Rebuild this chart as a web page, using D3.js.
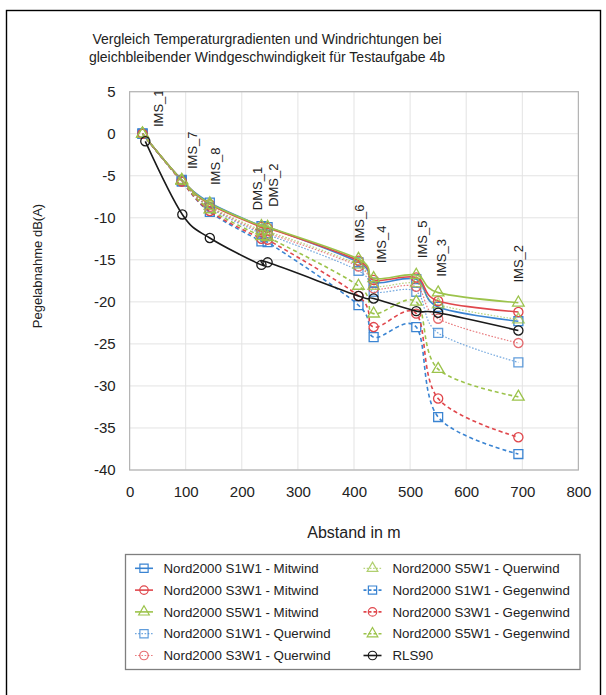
<!DOCTYPE html>
<html>
<head>
<meta charset="utf-8">
<script src="https://cdn.jsdelivr.net/npm/d3@7"></script>
<style>
  html, body { margin: 0; padding: 0; background: #fff; }
  svg { display: block; font-family: "Liberation Sans", Arial, sans-serif; }
</style>
</head>
<body>
<svg id="chart" width="606" height="695"></svg>
<script>
// Measurement positions (distance in m)
const stationX = [23, 93, 143, 235, 246, 408, 435, 511, 550, 693];
const rlsX     = [28, 94, 143, 235, 246, 408, 435, 511, 550, 693];

// Level decrease in dB(A) per series
const s1Mitwind    = [0, -5.5, -8.2, -11.0, -11.1, -15.3, -17.7, -17.3, -20.6, -22.3];
const s3Mitwind    = [0, -5.5, -8.4, -11.1, -11.2, -15.1, -17.4, -17.1, -19.9, -21.2];
const s5Mitwind    = [0, -5.5, -8.3, -11.0, -11.1, -14.9, -17.2, -16.8, -18.9, -20.1];
const s1Querwind   = [0, -5.6, -8.8, -11.9, -12.0, -16.3, -18.8, -18.8, -23.7, -27.2];
const s3Querwind   = [0, -5.6, -8.7, -11.7, -11.8, -15.8, -18.4, -18.2, -22.0, -24.9];
const s5Querwind   = [0, -5.6, -8.6, -11.5, -11.6, -15.6, -18.1, -17.8, -20.3, -22.1];
const s1Gegenwind  = [0, -5.7, -9.3, -12.8, -12.9, -20.4, -24.2, -23.0, -33.7, -38.1];
const s3Gegenwind  = [0, -5.7, -9.2, -12.5, -12.6, -19.3, -23.0, -21.4, -31.5, -36.1];
const s5Gegenwind  = [0, -5.6, -9.0, -12.2, -12.3, -18.1, -21.4, -20.0, -28.0, -31.3];
const rls90        = [-0.9, -9.6, -12.4, -15.6, -15.3, -19.3, -19.6, -21.1, -21.3, -23.4];

// Station labels and their anchor points (m, dB)
const stationNames  = ["IMS_1", "IMS_7", "IMS_8", "DMS_1", "DMS_2", "IMS_6", "IMS_4", "IMS_5", "IMS_3", "IMS_2"];
const stationLabelX = [51, 112, 152, 227, 257, 409, 449, 522, 556, 693];
const stationLabelY = [0.8, -4.2, -6.1, -9.1, -8.7, -12.9, -15.4, -14.8, -17.0, -17.7];

// Axis ticks
const xTicks = [0, 100, 200, 300, 400, 500, 600, 700, 800];
const yTicks = [5, 0, -5, -10, -15, -20, -25, -30, -35, -40];

const titleLines = ["Vergleich Temperaturgradienten und Windrichtungen bei",
                    "gleichbleibender Windgeschwindigkeit für Testaufgabe 4b"];

// Styling
const BLUE = "#3a84d2", RED = "#e0474c", GREEN = "#9cc34b", BLACK = "#1a1a1a";
const styles = {
  solid:  { dash: null,    width: 1.6, opacity: 1 },
  dotted: { dash: "1.6,1.6", width: 1.2, opacity: 0.7 },
  dashed: { dash: "4,3",   width: 1.6, opacity: 1 }
};

const series = [
  { name: "Nord2000 S1W1 - Mitwind",   x: stationX, y: s1Mitwind,   color: BLUE,  line: "solid",  sym: d3.symbolSquare },
  { name: "Nord2000 S3W1 - Mitwind",   x: stationX, y: s3Mitwind,   color: RED,   line: "solid",  sym: d3.symbolCircle },
  { name: "Nord2000 S5W1 - Mitwind",   x: stationX, y: s5Mitwind,   color: GREEN, line: "solid",  sym: d3.symbolTriangle },
  { name: "Nord2000 S1W1 - Querwind",  x: stationX, y: s1Querwind,  color: BLUE,  line: "dotted", sym: d3.symbolSquare },
  { name: "Nord2000 S3W1 - Querwind",  x: stationX, y: s3Querwind,  color: RED,   line: "dotted", sym: d3.symbolCircle },
  { name: "Nord2000 S5W1 - Querwind",  x: stationX, y: s5Querwind,  color: GREEN, line: "dotted", sym: d3.symbolTriangle },
  { name: "Nord2000 S1W1 - Gegenwind", x: stationX, y: s1Gegenwind, color: BLUE,  line: "dashed", sym: d3.symbolSquare },
  { name: "Nord2000 S3W1 - Gegenwind", x: stationX, y: s3Gegenwind, color: RED,   line: "dashed", sym: d3.symbolCircle },
  { name: "Nord2000 S5W1 - Gegenwind", x: stationX, y: s5Gegenwind, color: GREEN, line: "dashed", sym: d3.symbolTriangle },
  { name: "RLS90",                     x: rlsX,     y: rls90,       color: BLACK, line: "solid",  sym: d3.symbolCircle }
];

const symSize = new Map([[d3.symbolSquare, 80], [d3.symbolCircle, 66], [d3.symbolTriangle, 58]]);

const svg = d3.select("#chart");
const plot = { left: 129.6, right: 578.4, top: 91.7, bottom: 470 };

const x = d3.scaleLinear().domain([0, 800]).range([plot.left, plot.right]);
const y = d3.scaleLinear().domain([-40, 5]).range([plot.bottom, plot.top]);

// Outer chart frame
svg.append("rect")
  .attr("x", 6.5).attr("y", 10.5).attr("width", 594).attr("height", 700)
  .attr("fill", "#fff").attr("stroke", "#000").attr("stroke-width", 1.4);

// Title
svg.append("text")
  .attr("x", 267).attr("y", 43.5)
  .attr("text-anchor", "middle")
  .attr("font-size", 14).attr("fill", "#222")
  .selectAll("tspan").data(titleLines).join("tspan")
  .attr("x", 267).attr("dy", (d, i) => i === 0 ? 0 : 18.4)
  .text(d => d);

// Gridlines
const grid = svg.append("g");
grid.selectAll("line.gx").data(xTicks).join("line")
  .attr("x1", d => x(d)).attr("x2", d => x(d))
  .attr("y1", plot.top).attr("y2", plot.bottom)
  .attr("stroke", "#e3e3e3").attr("stroke-width", 1);
grid.selectAll("line.gy").data(yTicks).join("line")
  .attr("x1", plot.left).attr("x2", plot.right)
  .attr("y1", d => y(d)).attr("y2", d => y(d))
  .attr("stroke", "#e3e3e3").attr("stroke-width", 1);

// Plot area border
svg.append("rect")
  .attr("x", plot.left).attr("y", plot.top)
  .attr("width", plot.right - plot.left).attr("height", plot.bottom - plot.top)
  .attr("fill", "none").attr("stroke", "#b4b4b4").attr("stroke-width", 1.2);

// Axes (labels only, no tick marks)
const xAxis = svg.append("g")
  .attr("transform", `translate(0,${plot.bottom})`)
  .call(d3.axisBottom(x).tickValues(xTicks).tickFormat(d => String(d)).tickSize(0).tickPadding(16));
xAxis.select(".domain").remove();
xAxis.selectAll("text").attr("font-size", 15).attr("fill", "#222")
  .attr("font-family", "Liberation Sans, Arial, sans-serif");

const yAxis = svg.append("g")
  .attr("transform", `translate(${plot.left},0)`)
  .call(d3.axisLeft(y).tickValues(yTicks).tickFormat(d => String(d)).tickSize(0).tickPadding(14));
yAxis.select(".domain").remove();
yAxis.selectAll("text").attr("font-size", 15).attr("fill", "#222")
  .attr("font-family", "Liberation Sans, Arial, sans-serif");

// Axis titles
svg.append("text")
  .attr("x", (plot.left + plot.right) / 2).attr("y", 538)
  .attr("text-anchor", "middle").attr("font-size", 16).attr("fill", "#222")
  .text("Abstand in m");

svg.append("text")
  .attr("transform", "translate(42,266) rotate(-90)")
  .attr("text-anchor", "middle").attr("font-size", 13).attr("fill", "#222")
  .text("Pegelabnahme dB(A)");

// Clip for the plot area
svg.append("clipPath").attr("id", "plotClip")
  .append("rect")
  .attr("x", plot.left).attr("y", plot.top)
  .attr("width", plot.right - plot.left).attr("height", plot.bottom - plot.top);

// Series lines and markers
const line = d3.line()
  .x(d => x(d[0])).y(d => y(d[1]))
  .curve(d3.curveCatmullRom.alpha(0));

const gSeries = svg.append("g").attr("clip-path", "url(#plotClip)");
series.forEach(s => {
  const pts = s.x.map((v, i) => [v, s.y[i]]);
  const st = styles[s.line];
  const g = gSeries.append("g");
  g.append("path")
    .attr("d", line(pts))
    .attr("fill", "none")
    .attr("stroke", s.color)
    .attr("stroke-width", st.width)
    .attr("stroke-opacity", st.opacity)
    .attr("stroke-dasharray", st.dash);
  g.selectAll("path.m").data(pts).join("path")
    .attr("transform", d => `translate(${x(d[0])},${y(d[1])})`)
    .attr("d", d3.symbol(s.sym, symSize.get(s.sym)))
    .attr("fill", "none")
    .attr("stroke", s.color)
    .attr("stroke-width", 1.3)
    .attr("stroke-opacity", s.line === "dotted" ? 0.8 : 1);
});

// Station labels (rotated)
const gLabels = svg.append("g").attr("clip-path", "url(#plotClip)");
gLabels.selectAll("text").data(stationNames).join("text")
  .attr("transform", (d, i) => `translate(${x(stationLabelX[i])},${y(stationLabelY[i])}) rotate(-90)`)
  .attr("dy", "0.36em")
  .attr("font-size", 13).attr("fill", "#222")
  .text(d => d);

// Legend
const legend = { left: 125.5, top: 554.5, right: 580, bottom: 669.5 };
svg.append("rect")
  .attr("x", legend.left).attr("y", legend.top)
  .attr("width", legend.right - legend.left).attr("height", legend.bottom - legend.top)
  .attr("fill", "#fff").attr("stroke", "#7f7f7f").attr("stroke-width", 1.3);

const colSymX = [144, 372.5];
const colTextX = [163.5, 392.5];
const rowY0 = 568.3, rowStep = 21.8;

series.forEach((s, i) => {
  const col = Math.floor(i / 5), row = i % 5;
  const cy = rowY0 + row * rowStep;
  const st = styles[s.line];
  const g = svg.append("g");
  g.append("line")
    .attr("x1", colSymX[col] - 9).attr("x2", colSymX[col] + 9)
    .attr("y1", cy).attr("y2", cy)
    .attr("stroke", s.color).attr("stroke-width", st.width)
    .attr("stroke-opacity", st.opacity)
    .attr("stroke-dasharray", s.line === "dashed" ? "3,2" : st.dash);
  g.append("path")
    .attr("transform", `translate(${colSymX[col]},${cy})`)
    .attr("d", d3.symbol(s.sym, symSize.get(s.sym) * 0.85))
    .attr("fill", "none")
    .attr("stroke", s.color).attr("stroke-width", 1.2)
    .attr("stroke-opacity", s.line === "dotted" ? 0.8 : 1);
  g.append("text")
    .attr("x", colTextX[col]).attr("y", cy).attr("dy", "0.36em")
    .attr("font-size", 13.3).attr("fill", "#222")
    .text(s.name);
});
</script>
</body>
</html>
